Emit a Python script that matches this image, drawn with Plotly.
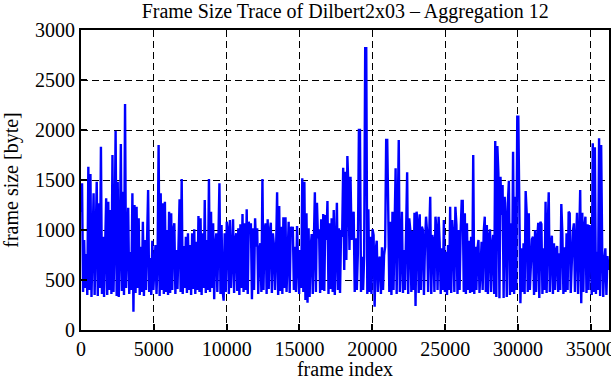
import plotly.graph_objects as go

TITLE = "Frame Size Trace of Dilbert2x03 \u2013 Aggregation 12"
X_LABEL = "frame index"
Y_LABEL = "frame size [byte]"
X_TICKS = [0, 5000, 10000, 15000, 20000, 25000, 30000, 35000]
Y_TICKS = [0, 500, 1000, 1500, 2000, 2500, 3000]
FRAME_STEP = 72  # frames between plotted samples

sizes = [
    1180, 1467, 380, 900, 420, 760, 350, 1633, 400, 1560, 330, 850,
    1367, 350, 800, 1483, 340, 1267, 420, 1833, 360, 933, 330, 700,
    1317, 350, 1283, 400, 1200, 360, 1750, 380, 900, 1993, 340, 1483,
    330, 800, 1860, 390, 1383, 350, 2260, 420, 850, 1223, 360, 780,
    400, 1367, 183, 1250, 370, 1233, 420, 1117, 350, 833, 380, 1083,
    340, 900, 400, 950, 1400, 380, 720, 350, 893, 400, 650, 850,
    360, 700, 1850, 340, 1367, 400, 1267, 360, 1283, 380, 1000, 350,
    1183, 370, 1167, 400, 1000, 1067, 360, 800, 410, 850, 1307, 380,
    1510, 360, 840, 420, 933, 370, 967, 400, 850, 350, 967, 410,
    1007, 360, 883, 400, 1140, 380, 1117, 350, 967, 420, 1300, 370,
    900, 400, 1510, 380, 1183, 420, 1067, 307, 850, 967, 380, 900,
    1467, 360, 1050, 400, 293, 967, 380, 1083, 1000, 360, 1100, 420,
    820, 1107, 370, 900, 967, 390, 1017, 350, 1057, 420, 1160, 380,
    1067, 400, 1207, 360, 1083, 967, 1067, 307, 1017, 400, 1117, 833,
    1017, 360, 800, 867, 380, 1510, 400, 983, 1067, 360, 1107, 410,
    983, 1073, 370, 967, 850, 400, 780, 1377, 350, 1240, 390, 1033,
    360, 1127, 420, 1127, 380, 900, 1083, 370, 1033, 967, 1033, 400,
    833, 380, 1040, 700, 360, 800, 420, 1517, 380, 1483, 300, 1167,
    273, 1017, 330, 833, 960, 360, 917, 1377, 380, 1273, 917, 1007,
    370, 1107, 400, 1160, 390, 1150, 900, 1290, 360, 1067, 410, 1117,
    380, 1200, 350, 850, 1273, 400, 1017, 370, 1000, 933, 1623, 600,
    1583, 700, 1740, 1433, 800, 1533, 900, 1100, 1183, 380, 917, 400,
    767, 2000, 2000, 380, 733, 400, 733, 2817, 2817, 360, 1207, 380,
    933, 360, 1007, 950, 233, 800, 893, 380, 700, 733, 360, 827,
    400, 750, 833, 1900, 1900, 1183, 380, 1083, 350, 1183, 400, 1000,
    1617, 360, 1183, 1900, 380, 1000, 1183, 370, 800, 400, 1150, 1577,
    360, 1117, 1000, 380, 993, 400, 1173, 240, 1183, 1067, 370, 1157,
    400, 1033, 1000, 350, 850, 1133, 983, 380, 933, 1333, 360, 950,
    883, 380, 1133, 1000, 400, 1133, 873, 360, 817, 400, 1100, 380,
    783, 350, 850, 400, 1233, 370, 1100, 933, 380, 1233, 1050, 360,
    1000, 400, 983, 1290, 1290, 380, 1167, 360, 1067, 400, 893, 370,
    933, 380, 1750, 360, 833, 400, 807, 900, 370, 750, 883, 400,
    983, 1133, 380, 1050, 360, 933, 1007, 380, 850, 950, 360, 1890,
    330, 1840, 1567, 317, 1533, 1150, 1450, 320, 1333, 1100, 330, 1267,
    1493, 350, 1067, 380, 1783, 360, 1333, 400, 2133, 2133, 1067, 267,
    817, 380, 867, 360, 1390, 1167, 380, 1167, 400, 750, 907, 933,
    350, 1000, 380, 900, 1073, 320, 1083, 1060, 360, 817, 400, 1283,
    370, 1000, 1377, 380, 833, 943, 360, 867, 400, 800, 840, 380,
    767, 400, 1260, 967, 360, 827, 380, 967, 400, 1183, 1167, 370,
    800, 983, 1067, 380, 883, 1173, 360, 1050, 1400, 267, 1173, 380,
    1033, 1133, 370, 1057, 400, 1050, 883, 350, 1867, 380, 1827, 360,
    783, 400, 1917, 340, 1850, 783, 330, 700, 817, 350, 740, 600,
]
frames = [i * FRAME_STEP for i in range(len(sizes))]

FONT = "Liberation Serif, Times New Roman, serif"

fig = go.Figure()
fig.add_trace(go.Scatter(
    x=frames, y=sizes, mode="lines",
    line=dict(color="#0000ff", width=2.4),
    hoverinfo="skip", showlegend=False,
))

axis_common = dict(
    showline=True, linecolor="black", linewidth=2, mirror=True,
    ticks="inside", ticklen=6, tickwidth=1.5, tickcolor="black",
    showgrid=True, gridcolor="black", gridwidth=1, griddash="7px,4px",
    zeroline=False, automargin=False, ticklabeloverflow="allow",
    tickfont=dict(family=FONT, size=20, color="black"),
)

fig.update_layout(
    width=611, height=380,
    margin=dict(l=81, r=2, t=30, b=50),
    paper_bgcolor="white", plot_bgcolor="white",
    title=dict(text=TITLE, x=0.565, xanchor="center", y=0.972, yanchor="middle",
               font=dict(family=FONT, size=20, color="black")),
    xaxis=dict(range=[0, 36250], tickvals=X_TICKS,
               ticktext=[str(v) for v in X_TICKS],
               title=dict(text=X_LABEL, font=dict(family=FONT, size=20, color="black"), standoff=2),
               **axis_common),
    yaxis=dict(range=[0, 3000], tickvals=Y_TICKS,
               ticktext=[str(v) for v in Y_TICKS],
               title=dict(text=Y_LABEL, font=dict(family=FONT, size=20, color="black"), standoff=12),
               **axis_common),
)

fig.write_html(
    "out.html",
    config={"displayModeBar": False},
    post_script="document.body.style.margin='0';document.body.style.padding='0';",
)
